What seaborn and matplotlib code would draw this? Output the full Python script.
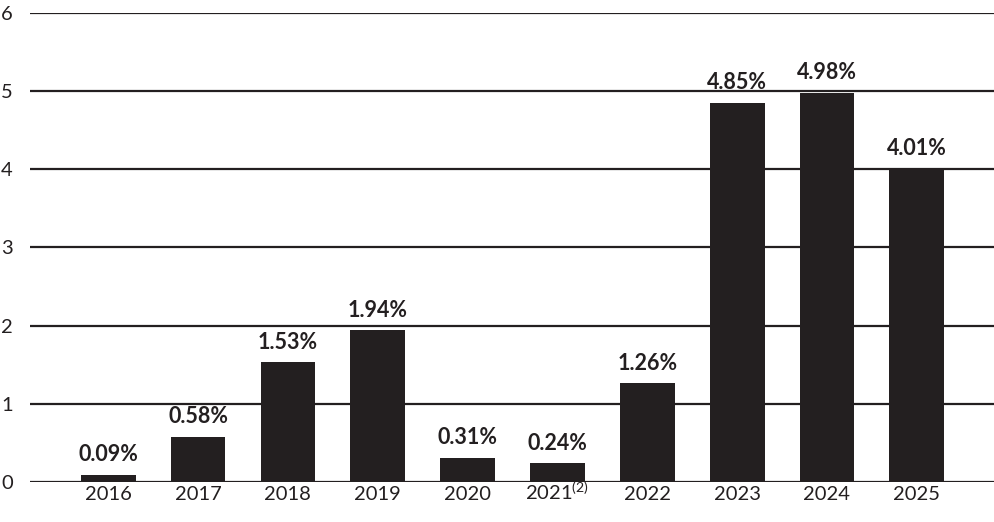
import pandas as pd
import matplotlib.pyplot as plt
import seaborn as sns

years = ["2016", "2017", "2018", "2019", "2020", "2021", "2022", "2023", "2024", "2025"]
tick_labels = ["2016", "2017", "2018", "2019", "2020", "2021$^{\\mathregular{(2)}}$",
               "2022", "2023", "2024", "2025"]
values = [0.09, 0.58, 1.53, 1.94, 0.31, 0.24, 1.26, 4.85, 4.98, 4.01]

df = pd.DataFrame({"Year": years, "Value": values})

sns.set_style("white")
plt.rcParams["font.family"] = ["Lato", "DejaVu Sans"]

fig = plt.figure(figsize=(9.95, 5.22), dpi=100)
ax = fig.add_axes([0.0302, 0.0766, 0.9698, 0.899])

sns.barplot(data=df, x="Year", y="Value", color="#231f20", width=0.61,
            saturation=1, linewidth=0, ax=ax)

labels = [f"{v:.2f}%" for v in values]
ax.bar_label(ax.containers[0], labels=labels, padding=7,
             fontsize=15.5, fontweight="bold", color="#231f20")

ax.set_ylim(0, 6)
ax.set_xlim(-0.87, 9.87)
ax.set_yticks(range(0, 7))
ax.set_xticks(range(len(years)))
ax.set_xticklabels(tick_labels)
ax.yaxis.grid(True, color="#231f20", linewidth=1.6)
ax.set_axisbelow(True)
for s in ax.spines.values():
    s.set_visible(False)
ax.tick_params(axis="both", length=0, labelsize=14.5, colors="#231f20")
for lab in ax.get_yticklabels():
    lab.set_horizontalalignment("left")
for lab in ax.get_xticklabels():
    lab.set_verticalalignment("baseline")
ax.tick_params(axis="y", pad=21)
ax.tick_params(axis="x", pad=13)
ax.set_xlabel("")
ax.set_ylabel("")

fig.savefig("out.png", dpi=100)
